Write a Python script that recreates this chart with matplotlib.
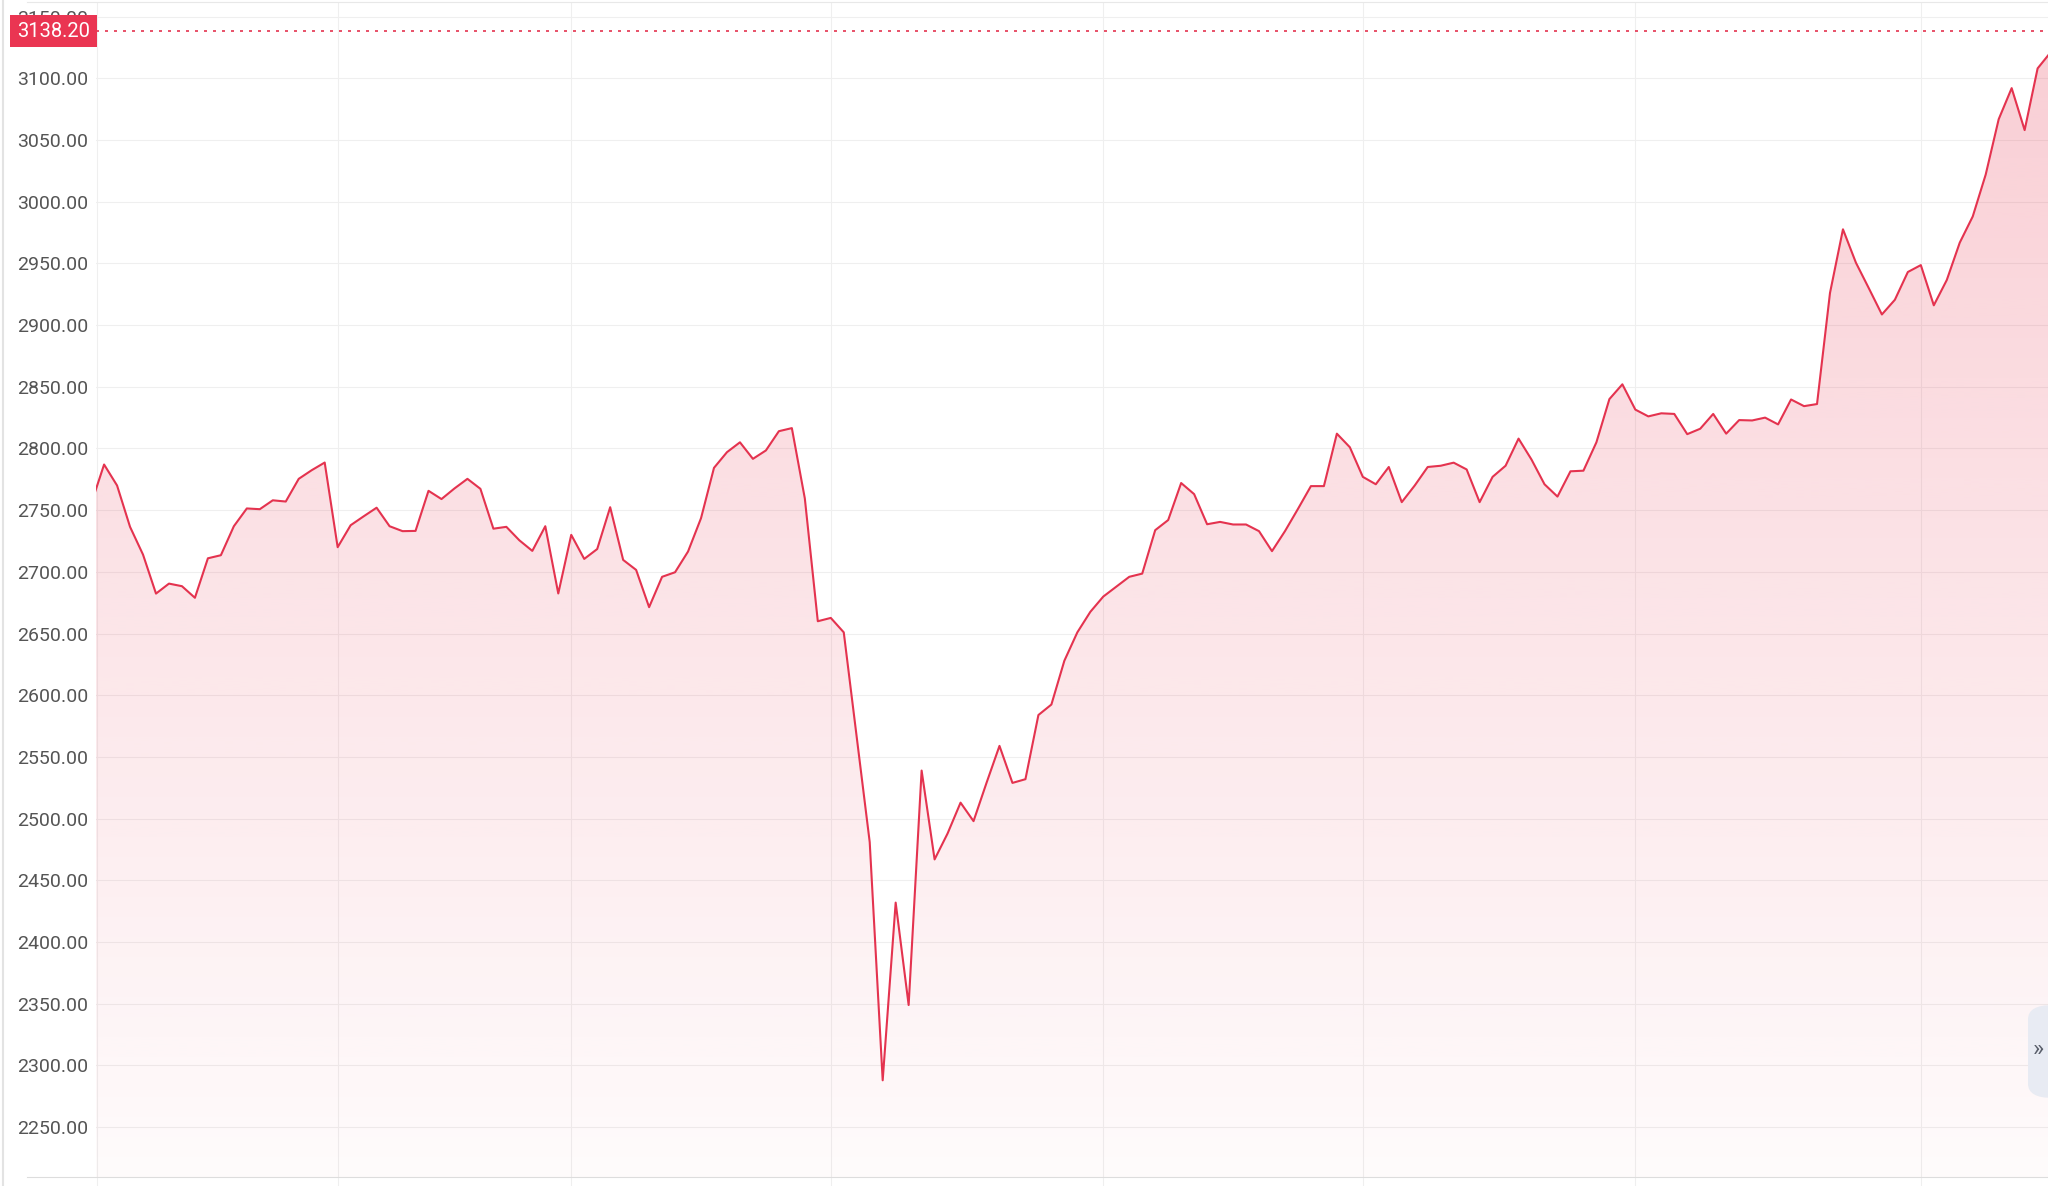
import matplotlib.pyplot as plt
import matplotlib.transforms as mtransforms
from matplotlib.patches import FancyBboxPatch
from matplotlib.lines import Line2D
import numpy as np

# closing values, one per trading day
close = [2755, 2787, 2770, 2736.5, 2714, 2682.4, 2690.5, 2688.4, 2679, 2711,
         2713.5, 2737, 2751.4, 2750.8, 2758, 2757, 2775.4, 2782.4, 2788.6, 2720,
         2737.8, 2745, 2752, 2737, 2733, 2733.2, 2765.7, 2759, 2767.6, 2775.4,
         2767.3, 2735, 2736.5, 2725.6, 2717, 2737, 2682.5, 2730, 2710.5, 2718.5,
         2752.4, 2709.7, 2701.6, 2671.4, 2696, 2699.7, 2716.5, 2743.5, 2784.3, 2797,
         2805, 2791.6, 2798.4, 2814, 2816.5, 2759.5, 2660, 2662.7, 2651, 2566,
         2481, 2288, 2432, 2349, 2539, 2467, 2488, 2513, 2498, 2529,
         2559, 2529, 2532, 2584, 2592.5, 2628, 2651, 2667.6, 2680, 2688,
         2696, 2698.6, 2733.8, 2742, 2772, 2763, 2738.6, 2740.5, 2738.4, 2738.4,
         2733, 2716.8, 2733, 2751, 2769.5, 2769.5, 2812, 2801, 2777, 2771,
         2785, 2756.5, 2770, 2785, 2786, 2788.5, 2783, 2756.5, 2777, 2786,
         2808, 2791, 2771, 2761, 2781.5, 2782, 2805, 2840, 2852, 2831.5,
         2826, 2828.5, 2828, 2811.6, 2816, 2828, 2812, 2823, 2822.7, 2825,
         2819.5, 2839.7, 2834.3, 2836, 2926, 2977.6, 2950.5, 2929.7, 2908.6, 2920.5,
         2943, 2948.6, 2916, 2936.5, 2966.8, 2988, 3022, 3066.8, 3092, 3058,
         3108, 3121]
last_price = 3138.20
month_starts = [19, 37, 57, 78, 98, 119, 141]
y_ticks = np.arange(2250, 3151, 50)

red = '#e4334f'
grid_col = '#efefef'

plt.rcParams['font.family'] = ['Roboto', 'DejaVu Sans']

fig = plt.figure(figsize=(20.48, 11.86), dpi=100)
ax = fig.add_axes([96.3 / 2048, 8.7 / 1186, 1 - 96.3 / 2048, (1177.3 - 2) / 1186])

x = np.arange(len(close))
y = np.array(close)

ax.set_xlim(0.4, 150.8)
ax.set_ylim(2209.4, 3161.8)

# gradient fill under the line
fill = ax.fill_between(x, y, 2000, color='none', lw=0)
alpha = np.linspace(0.02, 0.25, 256).reshape(-1, 1)
rgba = np.zeros((256, 1, 4))
rgba[..., 0] = 232 / 255
rgba[..., 1] = 53 / 255
rgba[..., 2] = 79 / 255
rgba[..., 3] = alpha
img = ax.imshow(rgba, aspect='auto', origin='lower', extent=[0.4, 150.8, 2209.4, 3161.8],
                zorder=1, interpolation='bilinear')
img.set_clip_path(fill.get_paths()[0], transform=ax.transData)

ax.plot(x, y, color=red, lw=1.5, zorder=3)

# last price line
ax.axhline(last_price, color=red, lw=1.2, dashes=(1.8, 3.6), zorder=3)

# grid
for v in y_ticks:
    ax.axhline(v, color=grid_col, lw=0.8, zorder=0)
for m in [0.45] + month_starts:
    ax.axvline(m, color=grid_col, lw=0.8, zorder=0)

ax.set_yticks(y_ticks)
ax.set_yticklabels(['%.2f' % v for v in y_ticks])
ax.tick_params(axis='y', length=0, pad=6, labelsize=14, labelcolor='#555555')
ax.set_xticks([0.45] + month_starts)
ax.set_xticklabels([])
ax.tick_params(axis='x', length=6.5, width=0.8, color=grid_col, direction='out')
for s in ax.spines.values():
    s.set_visible(False)

# price label box on the left (sits over the top tick label, as in the app)
trans = mtransforms.blended_transform_factory(fig.transFigure, ax.transData)
ax.text(53.5 / 2048, last_price, '%.2f' % last_price, transform=trans, color='white',
        fontsize=14.5, ha='center', va='center', zorder=10, clip_on=False,
        bbox=dict(boxstyle='square,pad=0.33', fc='#ea3552', ec='none'))

# frame lines
fig.add_artist(Line2D([27 / 2048, 1], [1 - 1.7 / 1186] * 2, color='#e8e8e8', lw=0.8))
fig.add_artist(Line2D([27 / 2048, 1], [8.7 / 1186] * 2, color='#dddddd', lw=0.8))
fig.add_artist(Line2D([2.7 / 2048] * 2, [0, 1], color='#e3e3e3', lw=1.5))

# collapse tab on the right
tab = FancyBboxPatch((2028 / 2048, 88 / 1186), 40 / 2048, 93 / 1186,
                     boxstyle='round,pad=0,rounding_size=0.012', transform=fig.transFigure,
                     fc='#e8ebf3', ec='none', clip_on=False)
fig.add_artist(tab)
fig.text(2038 / 2048, 1 - 1049 / 1186, '»', fontsize=17, color='#5a5f6b',
         ha='center', va='center')

fig.savefig('out.png', dpi=100)
